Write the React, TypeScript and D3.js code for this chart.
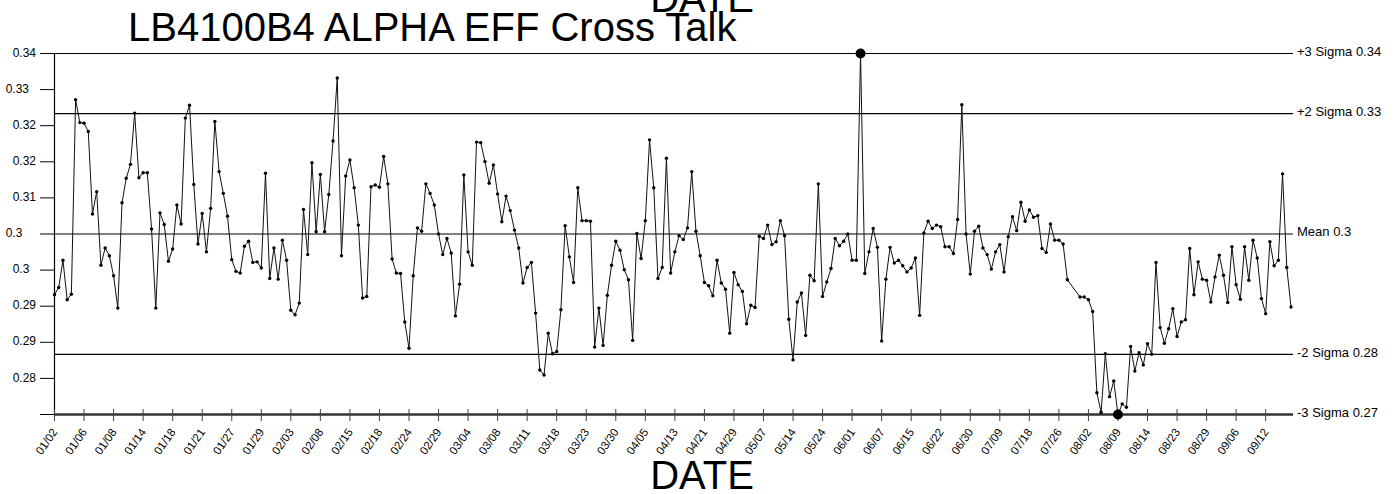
import React from "react";
import * as d3 from "d3";

const W = 1399;
const H = 494;

const TITLE = "LB4100B4 ALPHA EFF Cross Talk";
const X_TITLE = "DATE";

// one label every 7 samples
const dateTicks = [
  "01/02", "01/06", "01/08", "01/14", "01/18", "01/21", "01/27", "01/29",
  "02/03", "02/08", "02/15", "02/18", "02/24", "02/29", "03/04", "03/08",
  "03/11", "03/18", "03/23", "03/30", "04/05", "04/13", "04/21", "04/29",
  "05/07", "05/14", "05/24", "06/01", "06/07", "06/15", "06/22", "06/30",
  "07/09", "07/18", "07/26", "08/02", "08/09", "08/14", "08/23", "08/29",
  "09/06", "09/12",
];
const TICK_EVERY = 7;

const values: (number | null)[] = [
  0.2937, 0.2950, 0.2999, 0.2928, 0.2938, 0.3287, 0.3246, 0.3245, 0.3230, 0.3082,
  0.3122, 0.2990, 0.3021, 0.3007, 0.2971, 0.2913, 0.3102, 0.3146, 0.3171, 0.3263,
  0.3147, 0.3156, 0.3156, 0.3055, 0.2913, 0.3084, 0.3063, 0.2997, 0.3019, 0.3098,
  0.3064, 0.3254, 0.3277, 0.3135, 0.3028, 0.3083, 0.3014, 0.3092, 0.3248, 0.3158,
  0.3119, 0.3078,
  0.3000, 0.2979, 0.2976, 0.3024, 0.3033, 0.2995, 0.2996, 0.2985, 0.3155, 0.2966,
  0.3021, 0.2965, 0.3035, 0.2999, 0.2909, 0.2901, 0.2922, 0.3090, 0.3009, 0.3174,
  0.3050, 0.3153, 0.3050, 0.3117, 0.3213, 0.3326, 0.3007, 0.3150, 0.3179, 0.3129,
  0.3062, 0.2931, 0.2934, 0.3131, 0.3134, 0.3130, 0.3185, 0.3136, 0.3001, 0.2976,
  0.2975, 0.2888, 0.2841, 0.2971,
  0.3057, 0.3051, 0.3136, 0.3119, 0.3098, 0.3046, 0.3009, 0.3038, 0.3012, 0.2899,
  0.2956, 0.3152, 0.3014, 0.2990, 0.3211, 0.3210, 0.3176, 0.3137, 0.3170, 0.3118,
  0.3068, 0.3114, 0.3088, 0.3053, 0.3021, 0.2958, 0.2986, 0.2995, 0.2904, 0.2802,
  0.2793, 0.2868, 0.2831, 0.2835, 0.2910, 0.3061, 0.3005, 0.2959, 0.3129, 0.3070,
  0.3070, 0.3069, 0.2843, 0.2913,
  0.2846, 0.2936, 0.2990, 0.3033, 0.3017, 0.2982, 0.2964, 0.2855, 0.3047, 0.3002,
  0.3070, 0.3215, 0.3129, 0.2966, 0.2986, 0.3182, 0.2976, 0.3014, 0.3043, 0.3036,
  0.3057, 0.3158, 0.3051, 0.3007, 0.2959, 0.2953, 0.2935, 0.2999, 0.2958, 0.2947,
  0.2868, 0.2977, 0.2955, 0.2943, 0.2885, 0.2918, 0.2914, 0.3042, 0.3038, 0.3062,
  0.3027, 0.3032, 0.3070, 0.3043,
  0.2893, 0.2820, 0.2924, 0.2940, 0.2864, 0.2972, 0.2962, 0.3136, 0.2934, 0.2960,
  0.2984, 0.3038, 0.3025, 0.3033, 0.3046, 0.2999, 0.2999, 0.3370, 0.2975, 0.3014,
  0.3056, 0.3022, 0.2854, 0.2965, 0.3022, 0.2994, 0.2999, 0.2989, 0.2978, 0.2985,
  0.3003, 0.2900, 0.3048, 0.3069, 0.3056, 0.3062, 0.3059, 0.3023, 0.3023, 0.3011,
  0.3072, 0.3278, 0.3046, 0.2974,
  0.3051, 0.3060, 0.3021, 0.3009, 0.2983, 0.3014, 0.3027, 0.2978, 0.3041, 0.3077,
  0.3052, 0.3103, 0.3069, 0.3089, 0.3076, 0.3079, 0.3020, 0.3013, 0.3064, 0.3035,
  0.3035, 0.3028, 0.2964, null, null, 0.2933, 0.2933, 0.2928, 0.2907, 0.2761,
  0.2726, 0.2831, 0.2754, 0.2782, 0.2722, 0.2741, 0.2735, 0.2844, 0.2800, 0.2833,
  0.2811, 0.2849, 0.2830, 0.2995,
  0.2878, 0.2850, 0.2876, 0.2912, 0.2862, 0.2888, 0.2892, 0.3020, 0.2937, 0.2996,
  0.2965, 0.2963, 0.2924, 0.2969, 0.3008, 0.2972, 0.2923, 0.3023, 0.2955, 0.2929,
  0.3023, 0.2963, 0.3035, 0.3003, 0.2930, 0.2903, 0.3032, 0.2989, 0.2999, 0.3154,
  0.2986, 0.2915,
];

const limitValues = [0.337, 0.3262, 0.3046, 0.283, 0.2722];
const limitLabels = ["+3 Sigma 0.34", "+2 Sigma 0.33", "Mean 0.3", "-2 Sigma 0.28", "-3 Sigma 0.27"];

const yTickLabels = ["0.34", "0.33", "0.32", "0.32", "0.31", "0.3", "0.3", "0.29", "0.29", "0.28", ""];
const yLabelShift = [0, -7, 0, 0, 0, -7, 0, 0, 0, 0, 0];

const FONT = "'Liberation Sans', Arial, Helvetica, sans-serif";

type Pt = { i: number; v: number };

export default function App() {
  const ucl = limitValues[0];
  const lcl = limitValues[4];
  const left = 54.5;
  const right = 1293;
  const x = d3.scaleLinear().domain([0, values.length - 1]).range([left, 1291]);
  const y = d3.scaleLinear().domain([lcl, ucl]).range([414.5, 53.5]);

  const pts: Pt[] = [];
  values.forEach((v, i) => {
    if (v != null) pts.push({ i, v });
  });
  const line = d3.line<Pt>().x((d) => x(d.i)).y((d) => y(d.v));
  const yTicks = d3.range(11).map((k) => ucl - (k * (ucl - lcl)) / 10);
  const eps = 1e-7;

  return (
    <svg
      width={W}
      height={H}
      style={{ position: "absolute", left: 0, top: 0, background: "#fff" }}
      fontFamily={FONT}
    >
      <rect x={0} y={0} width={W} height={H} fill="#fff" />
      {/* titles */}
      <text x={702} y={12} fontSize={40} textAnchor="middle" fill="#000">{X_TITLE}</text>
      <text x={128} y={41} fontSize={40} fill="#000">{TITLE}</text>
      <text x={702} y={489} fontSize={40} textAnchor="middle" fill="#000">{X_TITLE}</text>

      {/* limit lines */}
      {limitValues.map((v, k) => (
        <g key={"lim" + k}>
          {k < 4 && (
            <line x1={left} x2={right} y1={y(v)} y2={y(v)} stroke="#000" strokeWidth={1.2} />
          )}
          <text x={1297} y={y(v) - 1} fontSize={13} dominantBaseline="middle" fill="#000">
            {limitLabels[k]}
          </text>
        </g>
      ))}

      {/* y axis */}
      <line x1={left} x2={left} y1={53} y2={415} stroke="#000" strokeWidth={1.2} />
      {yTicks.map((t, k) => (
        <g key={"yt" + k}>
          <line x1={40} x2={left} y1={y(t)} y2={y(t)} stroke="#000" strokeWidth={1} />
          <text x={12.7 + yLabelShift[k]} y={y(t)} fontSize={12} dominantBaseline="middle" fill="#000">
            {yTickLabels[k]}
          </text>
        </g>
      ))}

      {/* x axis */}
      <line x1={left} x2={right} y1={y(lcl)} y2={y(lcl)} stroke="#333" strokeWidth={2.5} />
      {dateTicks.map((lab, k) => {
        const tx = x(k * TICK_EVERY);
        return (
          <g key={"xt" + k}>
            <line x1={tx} x2={tx} y1={409} y2={421} stroke="#444" strokeWidth={1} />
            <text
              transform={`translate(${tx + 3.5},${432}) rotate(-55)`}
              fontSize={11.5}
              textAnchor="end"
              fill="#000"
            >
              {lab}
            </text>
          </g>
        );
      })}

      {/* series */}
      <path d={line(pts) || ""} fill="none" stroke="#111" strokeWidth={1} />
      {pts.map((d) => {
        const out = d.v >= ucl - eps || d.v <= lcl + eps;
        return <circle key={"p" + d.i} cx={x(d.i)} cy={y(d.v)} r={out ? 5 : 1.7} fill="#000" />;
      })}
    </svg>
  );
}
